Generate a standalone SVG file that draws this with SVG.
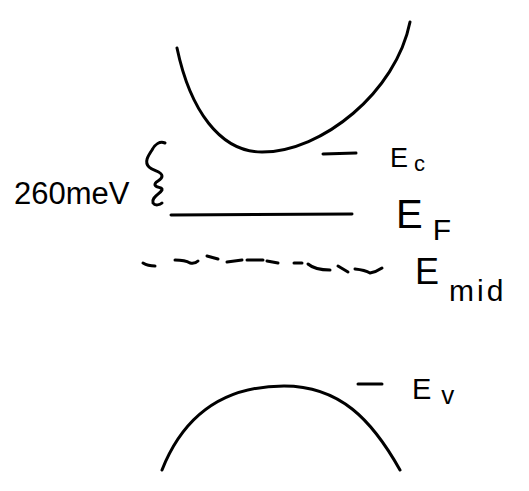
<svg xmlns="http://www.w3.org/2000/svg" width="529" height="491" viewBox="0 0 529 491">
<style>
.s{fill:none;stroke:#000;stroke-width:3;stroke-linecap:round;stroke-linejoin:round}
.t{font-family:"Liberation Sans","DejaVu Sans",sans-serif;fill:#000}
</style>
<rect width="529" height="491" fill="#fff"/>
<g id="bands">
<path class="s" d="M177,48 C190,110 220,152 262,152 C322,152 396,92 410,22"/>
<path class="s" d="M162,470 C185,412 228,386 284,386 C340,386 372,420 400,470"/>
</g>
<g id="levels">
<path class="s" d="M323,154 L356,153"/>
<path class="s" d="M171,215 L352,214"/>
<path class="s" d="M358,384 L382,384"/>
<g id="emid-dashes">
<path class="s" d="M143,263 Q148,266 155,266"/>
<path class="s" d="M175,260 Q185,260 190,263 Q195,264 198,261"/>
<path class="s" d="M207,256 L218,259"/>
<path class="s" d="M227,262 L242,260"/>
<path class="s" d="M247,260 L263,260"/>
<path class="s" d="M267,261 L278,263"/>
<path class="s" d="M294,263 L302,263"/>
<path class="s" d="M308,264 Q315,270 330,270"/>
<path class="s" d="M338,266 L348,272"/>
<path class="s" d="M355,269 Q365,270 370,273 Q376,272 382,268"/>
</g>
</g>
<g id="gap">
<path class="s" d="M165,143 C160,141 155,144 152,150 C148,156 144,162 149,167 C153,171 162,171 162,176 C162,181 154,181 155,185 C156,188 163,187 162,190 C160,194 151,197 153,203 C155,206 160,205 162,203"/>
<text class="t" x="14" y="204" font-size="31">260meV</text>
</g>
<g id="labels">
<text class="t" x="390" y="167" font-size="27">E<tspan font-size="22" dx="6" dy="4">c</tspan></text>
<text class="t" x="396" y="228" font-size="40">E<tspan font-size="30" dx="10" dy="12">F</tspan></text>
<text class="t" x="415" y="284" font-size="36">E<tspan font-size="30" dx="10" dy="17" letter-spacing="3">mid</tspan></text>
<text class="t" x="412" y="399" font-size="29">E<tspan font-size="26" dx="10" dy="5">v</tspan></text>
</g>
</svg>
